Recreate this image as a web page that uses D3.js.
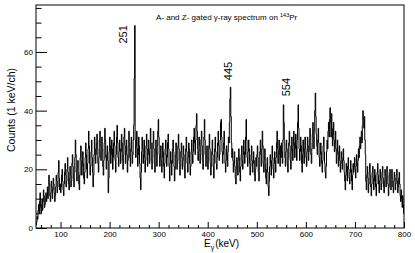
<!DOCTYPE html>
<html>
<head>
<meta charset="utf-8">
<script src="https://cdn.jsdelivr.net/npm/d3@7"></script>
<style>
  body { margin: 0; background: #fff; }
  svg { display: block; }
  text { font-family: "Liberation Sans", Arial, sans-serif; fill: #000; }
</style>
</head>
<body>
<div class="chart"></div>
<script>
// data: 1 keV/ch, first channel starts at 50 keV
var binStart = 50;
var binWidth = 1;
var counts = [
  1,2,4,3,6,8,5,9,12,7,5,8,10,6,9,13,11,7,8,10,12,9,11,14,10,
  13,18,15,11,9,12,16,14,10,13,17,15,12,9,11,14,18,16,12,14,19,23,17,13,15,
  12,14,18,20,16,13,11,15,19,22,18,14,16,20,24,19,15,13,17,21,18,14,16,22,25,
  21,17,14,19,24,30,25,19,16,20,23,19,15,13,18,24,28,23,18,21,26,22,17,15,19,
  24,29,25,20,17,22,27,33,28,22,18,21,26,30,24,19,14,18,25,31,27,22,25,29,32,
  27,22,19,24,30,33,28,23,26,31,27,21,18,23,29,34,30,24,20,25,28,23,12,17,26,
  31,28,22,25,30,27,20,24,29,33,28,23,19,25,31,35,29,24,21,26,30,27,22,26,32,
  29,23,20,25,31,34,28,22,26,30,25,19,23,28,33,29,24,21,27,31,26,22,25,30,35,
  51,69,30,24,28,33,27,21,25,31,28,22,17,13,19,26,31,27,22,25,30,24,19,23,28,
  32,27,21,25,30,26,22,27,34,29,23,20,24,29,33,27,22,19,25,30,26,21,28,33,37,
  31,25,21,24,28,23,19,24,29,26,21,17,22,27,30,25,21,24,29,32,27,21,16,22,26,
  23,18,22,27,30,26,21,16,20,25,29,24,20,23,28,32,27,22,18,21,26,29,24,20,23,
  28,25,21,17,22,27,31,26,22,19,24,29,27,22,18,21,26,30,25,22,26,31,34,29,25,
  30,35,39,33,27,23,26,31,28,22,25,30,33,28,23,20,25,31,37,30,25,21,24,28,24,
  20,23,28,32,27,22,18,21,26,30,25,21,17,22,27,31,26,22,20,24,29,33,28,23,25,
  30,36,37,31,26,22,25,29,33,27,22,19,23,28,25,21,26,31,29,36,44,48,38,29,24,
  27,23,19,22,26,21,17,15,20,24,21,18,23,27,24,19,16,21,25,28,23,20,25,30,26,
  22,25,31,37,30,24,21,26,30,27,22,18,21,25,28,23,19,22,26,23,18,16,20,24,21,
  25,28,24,19,16,21,26,30,25,21,27,33,28,22,19,23,27,22,17,15,20,24,19,14,11,
  16,21,25,22,18,23,28,24,20,17,22,26,23,19,24,29,33,27,22,26,30,25,21,28,24,
  29,26,22,30,42,36,29,24,21,26,30,27,22,19,24,29,33,28,23,20,26,31,27,23,28,
  33,29,24,27,32,28,23,30,36,42,34,27,23,26,31,28,22,19,25,30,26,22,27,31,27,
  24,21,26,31,28,23,26,30,34,29,25,22,27,32,36,31,27,33,40,46,38,32,28,25,30,
  34,29,24,21,25,29,26,22,19,23,28,31,26,22,19,17,21,26,30,27,33,36,31,37,41,
  36,31,39,34,28,32,36,30,26,29,33,27,22,25,30,26,21,24,28,23,19,22,26,24,20,
  23,27,23,19,16,13,18,22,19,16,21,24,20,17,15,19,23,20,16,13,18,22,19,21,24,
  20,17,21,25,22,19,23,27,24,28,31,27,30,33,29,35,40,37,34,38,30,25,16,13,18,
  21,17,12,15,19,22,18,14,11,15,19,21,17,13,16,20,18,14,11,15,19,22,18,15,12,
  16,20,17,13,15,19,21,17,14,12,16,20,18,14,17,21,19,15,11,14,18,20,16,13,17,
  20,17,14,12,16,19,17,13,15,18,20,16,12,14,17,19,15,11,9,13,10,7,11,8,5
];

var xMajor = [100, 200, 300, 400, 500, 600, 700, 800];
var yMajor = [0, 20, 40, 60];

// peak labels (where each label sits, in keV / counts)
var peakNames = ["251", "445", "554"];
var peakLabelE = [227, 441, 559];
var peakLabelY = [66, 53.5, 48];

// canvas
var width = 415, height = 253;
var svg = d3.select(".chart").append("svg")
            .attr("width", width)
            .attr("height", height);
var frame = {left: 36, right: 404, top: 5, bottom: 228};

// scales
var xScale = d3.scaleLinear().domain([50, 800]).range([frame.left, frame.right]);
var yScale = d3.scaleLinear().domain([0, 76]).range([frame.bottom, frame.top]);

// minor ticks
var xMinor = d3.range(60, 801, 20).filter(function(d) { return d % 100 !== 0; });
var yMinor = d3.range(5, 76, 5).filter(function(d) { return d % 20 !== 0; });

// histogram step line
var pts = [];
counts.forEach(function(c, i) {
    var e0 = binStart + i * binWidth;
    pts.push([xScale(e0), yScale(c)]);
    pts.push([xScale(e0 + binWidth), yScale(c)]);
});
var line = d3.line();
svg.append("path")
   .attr("d", line(pts))
   .attr("fill", "none")
   .attr("stroke", "#000")
   .attr("stroke-width", 1);

// axes
var xAxis = d3.axisBottom(xScale).tickValues(xMajor).tickSize(-6).tickPadding(3).tickFormat(d3.format("d"));
var xAxisMinor = d3.axisBottom(xScale).tickValues(xMinor).tickSize(-3).tickFormat("");
var yAxis = d3.axisLeft(yScale).tickValues(yMajor).tickSize(-11).tickPadding(3).tickFormat(d3.format("d"));
var yAxisMinor = d3.axisLeft(yScale).tickValues(yMinor).tickSize(-5.5).tickFormat("");

[xAxis, xAxisMinor].forEach(function(ax) {
    svg.append("g").attr("class", "x axis")
       .attr("transform", "translate(0," + frame.bottom + ")")
       .call(ax);
});
[yAxis, yAxisMinor].forEach(function(ax) {
    svg.append("g").attr("class", "y axis")
       .attr("transform", "translate(" + frame.left + ",0)")
       .call(ax);
});
svg.selectAll(".axis .domain").remove();
svg.selectAll(".axis text").attr("font-size", 8).attr("font-family", null);
svg.selectAll(".axis line").attr("stroke", "#000");

// frame
svg.append("rect")
   .attr("x", frame.left).attr("y", frame.top)
   .attr("width", frame.right - frame.left)
   .attr("height", frame.bottom - frame.top)
   .attr("fill", "none").attr("stroke", "#000").attr("stroke-width", 1);

// title
var title = svg.append("text").attr("x", 156).attr("y", 20).attr("font-size", 8);
title.append("tspan").text("A- and Z- gated \u03b3-ray spectrum on ");
title.append("tspan").attr("font-size", 5.5).attr("dy", -3.5).text("143");
title.append("tspan").attr("dy", 3.5).text("Pr");

// peak labels
svg.selectAll(".peak").data(peakNames).enter().append("text")
   .attr("class", "peak")
   .attr("font-size", 11)
   .attr("text-anchor", "middle")
   .attr("dominant-baseline", "central")
   .attr("transform", function(d, i) {
       return "translate(" + xScale(peakLabelE[i]) + "," + yScale(peakLabelY[i]) + ") rotate(-90)";
   })
   .text(function(d) { return d; });

// axis titles
svg.append("text")
   .attr("font-size", 10.5)
   .attr("text-anchor", "middle")
   .attr("transform", "translate(15,110) rotate(-90)")
   .text("Counts (1 keV/ch)");

var xt = svg.append("text").attr("x", 204).attr("y", 247).attr("font-size", 10);
xt.append("tspan").text("E");
xt.append("tspan").attr("font-size", 7).attr("dy", 2.5).text("\u03b3");
xt.append("tspan").attr("dy", -2.5).attr("dx", 1).text("(keV)");
</script>
</body>
</html>
